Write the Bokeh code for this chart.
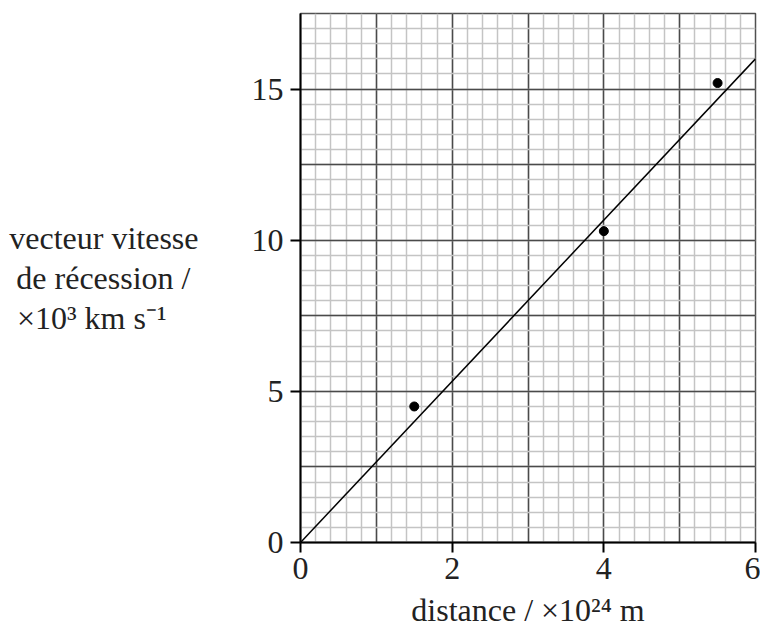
from bokeh.plotting import figure
from bokeh.models import Range1d, FixedTicker, SingleIntervalTicker
from bokeh.embed import file_html
from bokeh.resources import INLINE

# ---- data ----
distance = [1.5, 4.0, 5.5]          # x 10^24 m
velocity = [4.5, 10.3, 15.2]        # x 10^3 km/s
fit_x = [0, 6]
fit_y = [0, 16]
x_ticks = [0, 2, 4, 6]
y_ticks = [0, 5, 10, 15]
x_range = (0, 6)
y_range = (0, 17.5)
x_title = "distance / \u00d710\u00b2\u2074 m"
NB = "\u00a0"
y_title = ("vecteur vitesse\n"
           "de r\u00e9cession /" + NB + "\n"
           "\u00d710\u00b3 km s\u207b\u00b9" + NB * 4)

FONT = "Liberation Serif"
FS = "32px"

p = figure(width=760, height=630, output_backend="svg", toolbar_location=None,
           x_range=Range1d(*x_range), y_range=Range1d(*y_range),
           min_border_left=300, min_border_top=13, min_border_right=5,
           min_border_bottom=87)
p.background_fill_color = "white"
p.border_fill_color = "white"
p.outline_line_color = "#505050"
p.outline_line_width = 1.5

# grids
p.xgrid.ticker = SingleIntervalTicker(interval=1, num_minor_ticks=5)
p.ygrid.ticker = SingleIntervalTicker(interval=2.5, num_minor_ticks=5)
for g in (p.xgrid, p.ygrid):
    g.grid_line_color = "#4a4a4a"
    g.grid_line_width = 1.5
    g.minor_grid_line_color = "#c4c4c4"
    g.minor_grid_line_width = 1.5

# axes
p.xaxis.ticker = FixedTicker(ticks=x_ticks)
p.yaxis.ticker = FixedTicker(ticks=y_ticks)
for ax in (p.xaxis, p.yaxis):
    ax.axis_line_color = "black"
    ax.axis_line_width = 2
    ax.major_tick_line_color = "black"
    ax.major_tick_line_width = 2
    ax.major_tick_in = 0
    ax.major_tick_out = 10
    ax.minor_tick_line_color = None
    ax.major_label_text_font = FONT
    ax.major_label_text_font_size = FS
    ax.major_label_text_color = "#222222"
    ax.axis_label_text_font = FONT
    ax.axis_label_text_font_size = FS
    ax.axis_label_text_font_style = "normal"
    ax.axis_label_text_color = "#222222"
p.xaxis.major_label_standoff = 5
p.yaxis.major_label_standoff = 7

p.xaxis.axis_label = x_title
p.xaxis.axis_label_standoff = 10
p.yaxis.axis_label = y_title
p.yaxis.axis_label_orientation = "horizontal"
p.yaxis.axis_label_standoff = 50
p.yaxis.axis_label_text_line_height = 1.1

# fit line and points
p.line(fit_x, fit_y, line_color="black", line_width=1.5)
p.scatter(distance, velocity, size=9, color="black")

open("out.html", "w").write(file_html(p, INLINE))
